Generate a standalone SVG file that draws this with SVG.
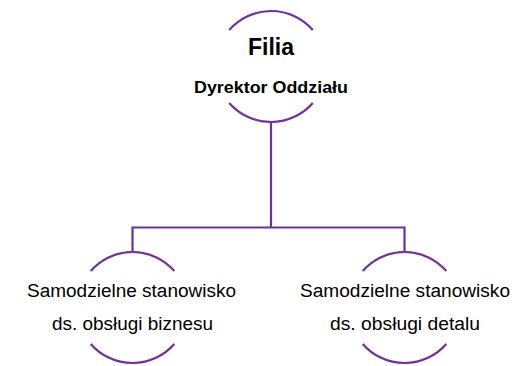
<svg xmlns="http://www.w3.org/2000/svg" width="522" height="366" viewBox="0 0 522 366">
<style>
.arc{fill:none;stroke:#7030A0;stroke-width:2.2}
.con{fill:none;stroke:#7030A0;stroke-width:2.2}
text{font-family:"Liberation Sans",Arial,sans-serif;fill:#000;text-anchor:middle}
.t1{font-size:24px;font-weight:bold}
.t2{font-size:17px;font-weight:bold}
.t3{font-size:18px}
</style>
<rect width="522" height="366" fill="#fff"/>
<g id="connectors">
<path class="con" d="M271 122 V227.5 M132.5 252 V227.5 H404.5 V252"/>
</g>
<g id="node-filia">
<path class="arc" d="M229.2 30 A55.5 55.5 0 0 1 312.8 30"/>
<path class="arc" d="M229.2 103 A55.5 55.5 0 0 0 312.8 103"/>
<text class="t1" x="271" y="55" textLength="46" lengthAdjust="spacingAndGlyphs">Filia</text>
<text class="t2" x="271" y="93" textLength="154" lengthAdjust="spacingAndGlyphs">Dyrektor Oddziału</text>
</g>
<g id="node-biznes">
<path class="arc" d="M90.7 271 A55.5 55.5 0 0 1 174.3 271"/>
<path class="arc" d="M90.7 344 A55.5 55.5 0 0 0 174.3 344"/>
<text class="t3" x="131.5" y="297" textLength="209" lengthAdjust="spacingAndGlyphs">Samodzielne stanowisko</text>
<text class="t3" x="132.5" y="330" textLength="161" lengthAdjust="spacingAndGlyphs">ds. obsługi biznesu</text>
</g>
<g id="node-detal">
<path class="arc" d="M362.7 271 A55.5 55.5 0 0 1 446.3 271"/>
<path class="arc" d="M362.7 344 A55.5 55.5 0 0 0 446.3 344"/>
<text class="t3" x="405" y="297" textLength="210" lengthAdjust="spacingAndGlyphs">Samodzielne stanowisko</text>
<text class="t3" x="405" y="330" textLength="150" lengthAdjust="spacingAndGlyphs">ds. obsługi detalu</text>
</g>
</svg>
